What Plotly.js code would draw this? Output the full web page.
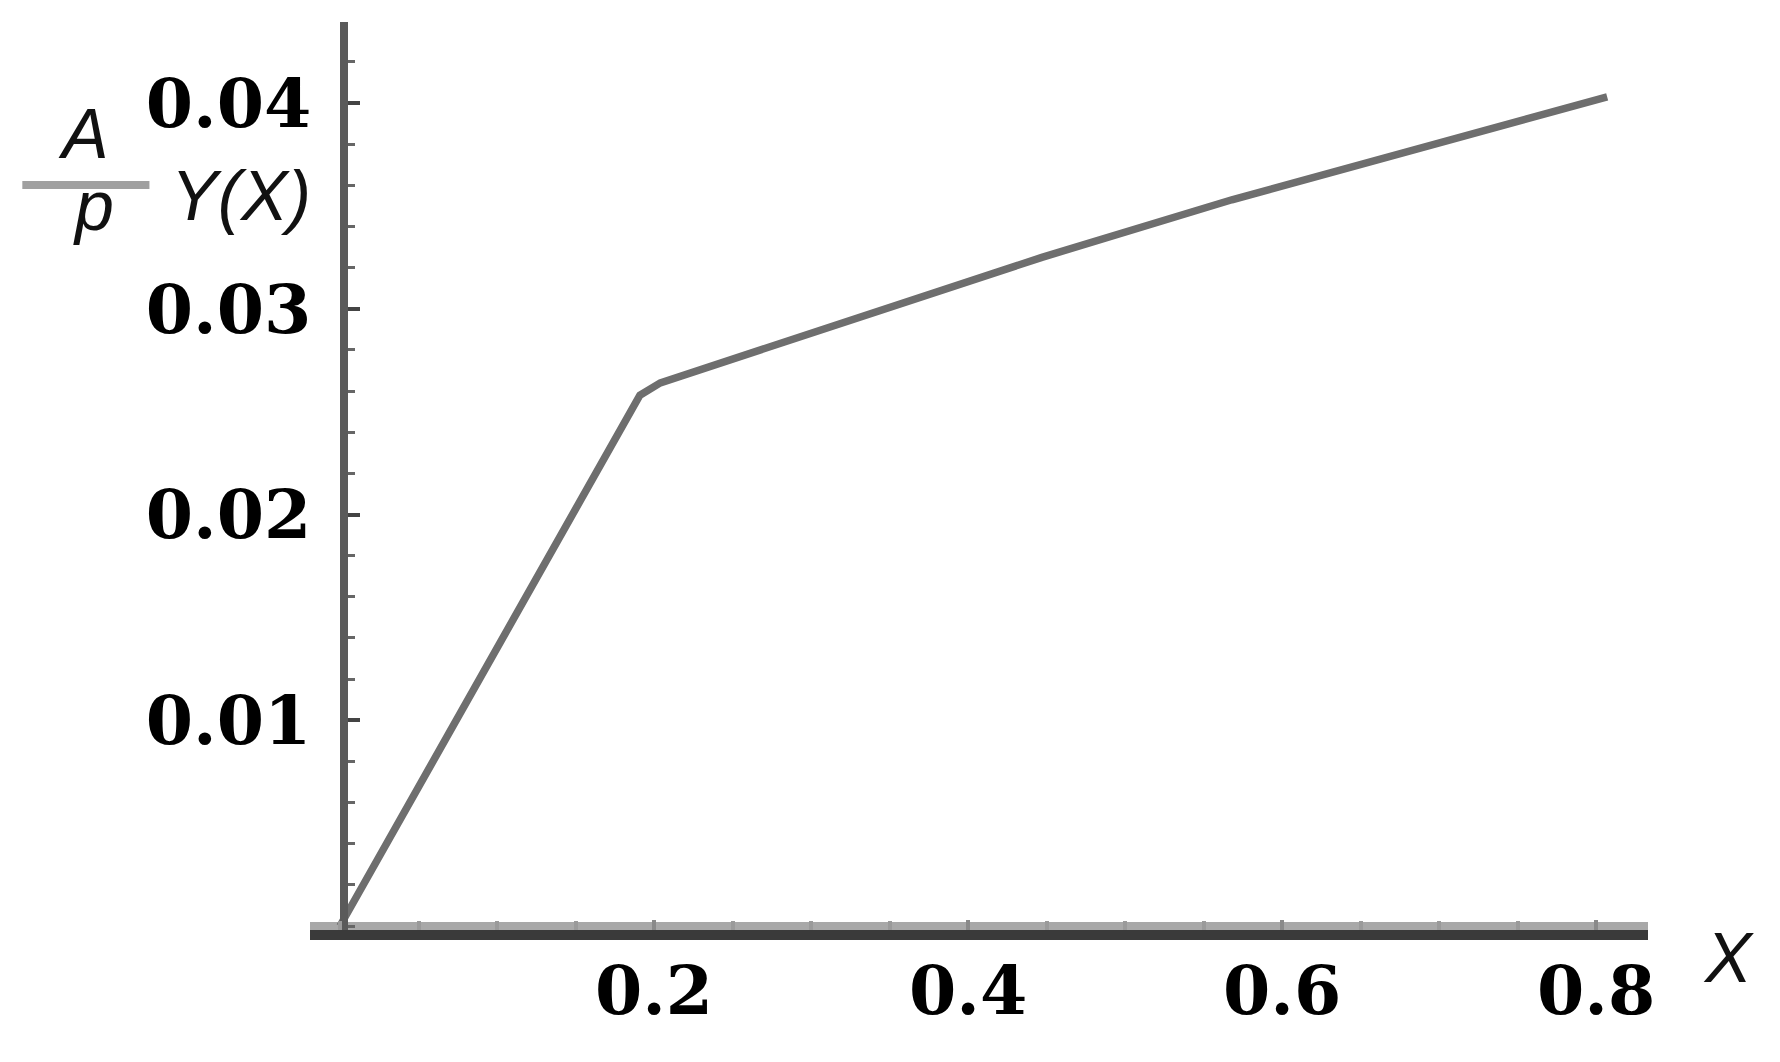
<!DOCTYPE html>
<html>
<head>
<meta charset="utf-8">
<title>Y(X)</title>
<script src="https://cdn.plot.ly/plotly-3.0.1.min.js"></script>
<style>
  html, body { margin: 0; padding: 0; background: #fff; }
  #chart { width: 1780px; height: 1062px; }
</style>
</head>
<body>
<div id="chart"></div>
<script>
'use strict';

// curve
var xValues = [0, 0.191, 0.204, 0.370, 0.447, 0.568, 0.676, 0.753, 0.807];
var yValues = [0, 0.0258, 0.0264, 0.0306, 0.0325, 0.0353, 0.0376, 0.0392, 0.0403];

var xTickVals = [0.2, 0.4, 0.6, 0.8];
var xTickText = ['0.2', '0.4', '0.6', '0.8'];
var yTickVals = [0.01, 0.02, 0.03, 0.04];
var yTickText = ['0.01', '0.02', '0.03', '0.04'];

var tickFont = { family: 'DejaVu Serif', size: 68, color: '#000', weight: 'bold' };
var labelFont = { family: 'Liberation Sans', size: 70, color: '#111', style: 'italic' };

function label(text, x, y) {
  return { text: text, xref: 'paper', yref: 'paper', x: x, y: y,
    xanchor: 'center', yanchor: 'middle', showarrow: false, font: labelFont };
}

function plotCurve(graphElement) {
  var data = [{
    x: xValues,
    y: yValues,
    mode: 'lines',
    line: { color: '#6e6e6e', width: 7.5 },
    hoverinfo: 'skip',
    showlegend: false
  }];

  var layout = {
    width: 1780,
    height: 1062,
    margin: { l: 310, r: 132, t: 22, b: 132 },
    paper_bgcolor: '#fff',
    plot_bgcolor: '#fff',
    xaxis: {
      range: [-0.0191, 0.833],
      showgrid: false,
      zeroline: false,
      showline: true,
      linecolor: '#3a3a3a',
      linewidth: 10,
      ticks: 'inside',
      ticklen: 10,
      tickwidth: 4,
      tickcolor: '#8a8a8a',
      tickvals: xTickVals,
      ticktext: xTickText,
      tickfont: tickFont,
      ticklabelstandoff: -8,
      minor: { tickmode: 'linear', tick0: 0, dtick: 0.05, ticks: 'inside', ticklen: 9, tickwidth: 4, tickcolor: '#9a9a9a' }
    },
    yaxis: {
      range: [-0.000194, 0.04394],
      anchor: 'free',
      position: 0.0254,
      showgrid: false,
      zeroline: true,
      zerolinecolor: '#a8a8a8',
      zerolinewidth: 8,
      showline: true,
      linecolor: '#5a5a5a',
      linewidth: 8,
      ticks: 'inside',
      ticklen: 12,
      tickwidth: 4,
      tickcolor: '#444',
      tickvals: yTickVals,
      ticktext: yTickText,
      tickfont: tickFont,
      ticklabelstandoff: 15,
      minor: { tickmode: 'linear', tick0: 0, dtick: 0.002, ticks: 'inside', ticklen: 7, tickwidth: 3, tickcolor: '#666' }
    },
    shapes: [{
      // fraction bar of A/p
      type: 'line', xref: 'paper', yref: 'paper',
      x0: -0.215, x1: -0.120, y0: 0.8205, y1: 0.8205,
      line: { color: '#a0a0a0', width: 8 }
    }],
    annotations: [
      label('A', -0.169, 0.877),
      label('p', -0.162, 0.797),
      label('Y(X)', -0.0516, 0.808),
      label('X', 1.060, -0.031)
    ]
  };

  Plotly.newPlot(graphElement, data, layout, { displayModeBar: false, staticPlot: true });
}

plotCurve(document.getElementById('chart'));
</script>
</body>
</html>
